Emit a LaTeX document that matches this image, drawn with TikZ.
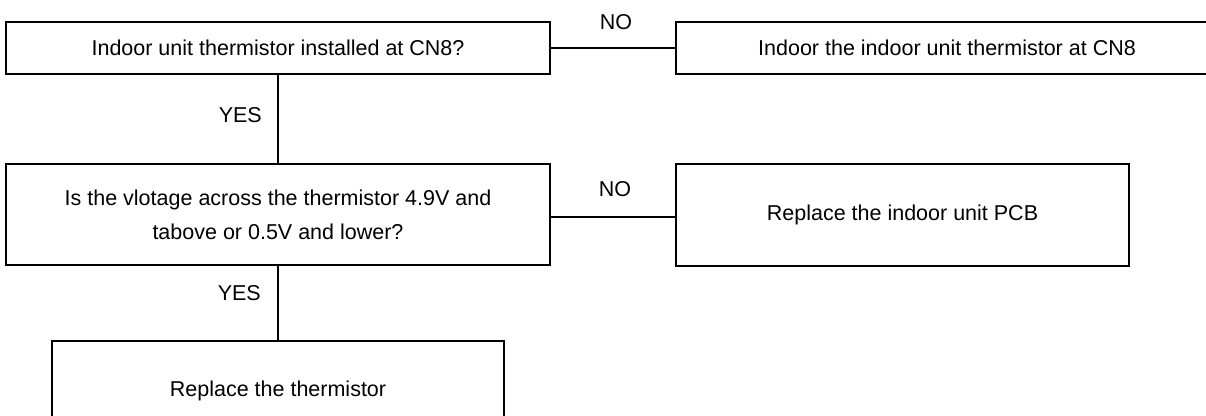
\documentclass[tikz,border=0pt]{standalone}
\usepackage{fontspec}
\setmainfont{Liberation Sans}
\begin{document}
\begin{tikzpicture}[x=1pt,y=-1pt,
  box/.style={draw=black,line width=1.2pt,inner sep=0pt,align=center,
    font=\fontsize{21.5}{34}\selectfont},
  lbl/.style={inner sep=0pt,font=\fontsize{21.5}{26}\selectfont},
  conn/.style={draw=black,line width=1.2pt}]
\clip (0,0) rectangle (1206,415);
\node[box,minimum width=544pt,minimum height=52pt] (b1) at (278,48) {Indoor unit thermistor installed at CN8?};
\node[box,minimum width=542pt,minimum height=52pt] (b2) at (947,48) {Indoor the indoor unit thermistor at CN8};
\node[box,minimum width=544pt,minimum height=101pt] (b3) at (278,214.5) {Is the vlotage across the thermistor 4.9V and\\tabove or 0.5V and lower?};
\node[box,minimum width=453pt,minimum height=102pt] (b4) at (902.5,215) {Replace the indoor unit PCB};
\node[box,minimum width=452pt,minimum height=99pt] (b5) at (278,390.5) {Replace the thermistor};
\draw[conn] (b1.east) -- (b2.west);
\draw[conn] (b1.south) -- (b3.north);
\draw[conn] ([yshift=-2.5pt]b3.east) -- ([yshift=-2.5pt]b3.east -| b4.west);
\draw[conn] (b3.south) -- (b5.north);
\node[lbl] (no1) at (616,22) {NO};
\node[lbl] (no2) at (615,189) {NO};
\node[lbl,anchor=east] (yes1) at (262,115) {YES};
\node[lbl,anchor=east] (yes2) at (261,293) {YES};
\end{tikzpicture}
\end{document}
